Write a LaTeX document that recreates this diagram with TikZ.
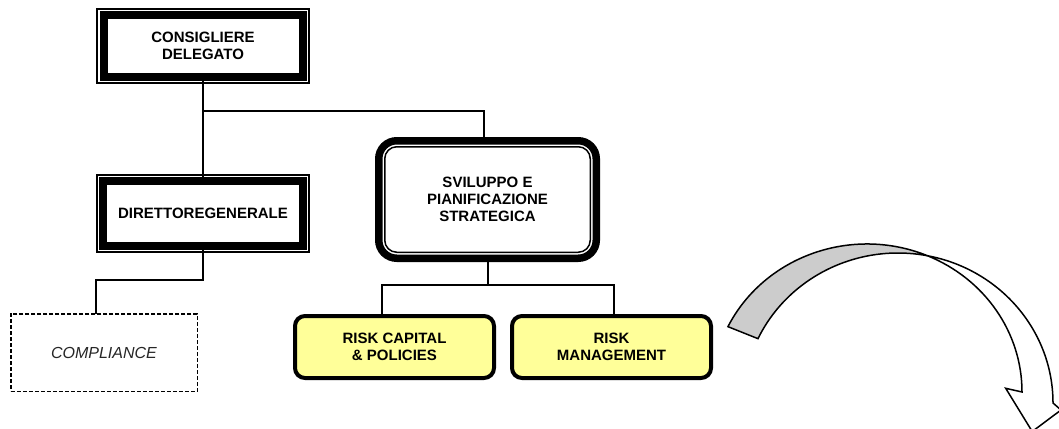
\documentclass[tikz,border=0pt]{standalone}
\usepackage{fontspec}
\setmainfont{Liberation Sans}
\usetikzlibrary{backgrounds,calc}
\definecolor{riskyellow}{RGB}{255,255,153}
\definecolor{bandgray}{RGB}{204,204,204}
\begin{document}
\begin{tikzpicture}[x=1pt,y=-1pt,
  lbl/.style={font=\fontsize{15}{17}\selectfont\bfseries, align=center, text=black},
  headbox/.style={lbl, draw=black, fill=white, line width=8pt, outer sep=0pt, inner sep=0pt},
  staffbox/.style={lbl, draw=black, fill=white, line width=7.5pt, rounded corners=18pt, outer sep=0pt, inner sep=0pt},
  unitbox/.style={lbl, draw=black, fill=riskyellow, line width=4pt, rounded corners=10pt, outer sep=0pt, inner sep=0pt},
  dashbox/.style={draw=black, line width=1.5pt, dash pattern=on 4pt off 2pt, fill=white, outer sep=0pt, inner sep=0pt,
    font=\fontsize{16}{18}\selectfont\itshape, text=black!85},
  link/.style={draw=black, line width=2pt},
  thinframe/.style={draw=black, line width=2pt},
  innerline/.style={draw=black, line width=1.5pt, rounded corners=12pt},
  band/.style={draw=black, line width=1.5pt, line join=miter}
]
\useasboundingbox (0,0) rectangle (1059,428);

% top management boxes (thick-thin frame)
\node[headbox, minimum width=199pt, minimum height=61pt] (cd) at (203,46) {CONSIGLIERE\\DELEGATO};
\draw[thinframe] ([shift={(-6.5,-6.5)}]cd.north west) rectangle ([shift={(6.5,6.5)}]cd.south east);

\node[headbox, minimum width=199.5pt, minimum height=64.5pt] (dg) at (203,213.25) {DIRETTOREGENERALE};
\draw[thinframe] ([shift={(-6.5,-6.5)}]dg.north west) rectangle ([shift={(6.5,6.5)}]dg.south east);

% staff function (thick-thin rounded frame)
\node[staffbox, minimum width=217.5pt, minimum height=117.5pt] (sv) at (487.5,199.5) {SVILUPPO E\\PIANIFICAZIONE\\STRATEGICA};
\draw[innerline] ([shift={(6,6)}]sv.north west) rectangle ([shift={(-6,-6)}]sv.south east);

% operating units
\node[unitbox, minimum width=199pt, minimum height=62pt] (rc) at (394.5,347) {RISK CAPITAL\\\& POLICIES};
\node[unitbox, minimum width=199pt, minimum height=62pt] (rm) at (611.5,347) {RISK\\MANAGEMENT};

% compliance
\node[dashbox, minimum width=186.5pt, minimum height=77.5pt] (cp) at (104,352.5) {COMPLIANCE};

% reporting lines
\begin{pgfonlayer}{background}
\coordinate (j1) at (203,111);
\coordinate (j2) at (203,280);
\coordinate (j3) at (487.5,285);
\draw[link] (cd.south) -- (dg.north);
\draw[link] (j1) -| ([xshift=-4pt]sv.north);
\draw[link] (dg.south) -- (j2) -| ([xshift=-8pt]cp.north);
\draw[link] (sv.south) -- (j3);
\draw[link] ([xshift=-12.5pt]rc.north) |- (j3) -| ([xshift=2.5pt]rm.north);
\end{pgfonlayer}

% curved arrow
\begin{scope}
\clip (0,0) rectangle (1059,428);
\path[band, fill=white] (867,392) ++(-67:155 and 148)
  arc[start angle=-67, end angle=0, x radius=155, y radius=148]
  -- (1005.7,388.3) -- (1032.2,431.5) -- (1061,410) -- (1053,403)
  arc[start angle=0, end angle=-79, x radius=155, y radius=150] -- cycle;
\path[band, fill=bandgray] (867,392) ++(-153.8:155 and 148)
  arc[start angle=-153.8, end angle=-67, x radius=155, y radius=148]
  arc[start angle=-79, end angle=-154.6, x radius=155, y radius=150] -- cycle;
\end{scope}
\end{tikzpicture}
\end{document}
